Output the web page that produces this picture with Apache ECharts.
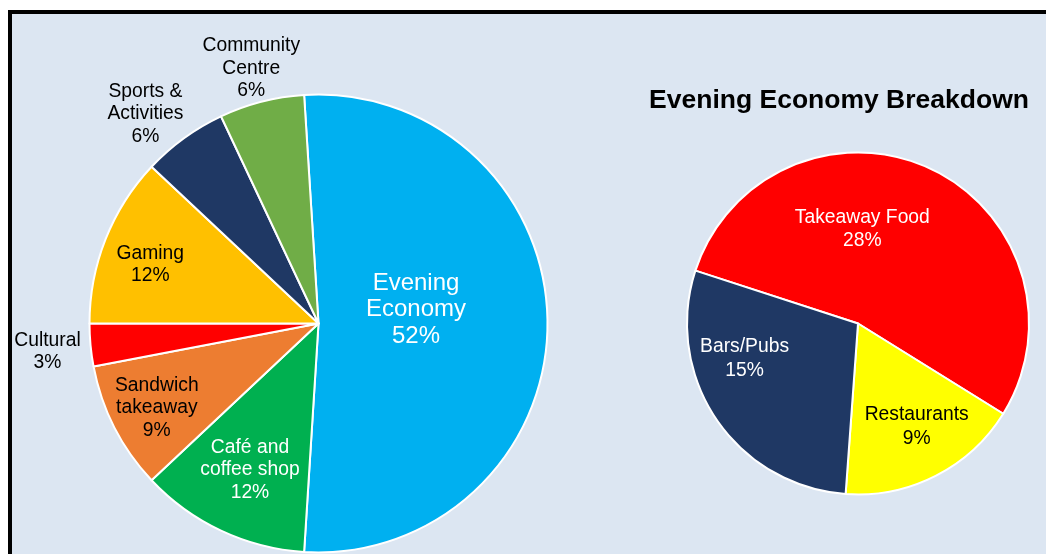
<!DOCTYPE html>
<html>
<head>
<meta charset="utf-8">
<script src="https://cdn.jsdelivr.net/npm/echarts@6/dist/echarts.min.js"></script>
<style>
  html, body { margin: 0; padding: 0; background: #ffffff; width: 1046px; height: 554px; overflow: hidden; }
  #frame { position: absolute; left: 8px; top: 10px; width: 1100px; height: 600px; border: 4px solid #000; background: #DCE6F2; }
  #chart { position: absolute; left: 0; top: 0; width: 1046px; height: 554px; }
</style>
</head>
<body>
<div id="frame"></div>
<div id="chart"></div>
<script>
// Main pie
const mainCategories = ['Evening\nEconomy', 'Café and\ncoffee shop', 'Sandwich\ntakeaway', 'Cultural', 'Gaming', 'Sports &\nActivities', 'Community\nCentre'];
const mainValues = [52, 12, 9, 3, 12, 6, 6];
const mainColors = ['#00B0F0', '#00B050', '#ED7D31', '#FF0000', '#FFC000', '#1F3864', '#70AD47'];
const mainLabelColors = ['#ffffff', '#ffffff', '#000000', '#000000', '#000000', '#000000', '#000000'];
const mainLabelOffsets = [[-20, -14], [-18.5, 40], [-57, 31], [-154, 17], [-59, -15.5], [-104, -114.5], [-38, -141.5]];

// Breakdown pie
const subCategories = ['Takeaway Food', 'Restaurants', 'Bars/Pubs'];
const subValues = [28, 9, 15];
const subColors = ['#FF0000', '#FFFF00', '#1F3864'];
const subLabelColors = ['#ffffff', '#000000', '#ffffff'];
const subLabelOffsets = [[-33, -14], [18.5, 24.5], [-40, -14]];

const titleText = 'Evening Economy Breakdown';

const font = 'Liberation Sans, Arial, sans-serif';

const mainData = mainCategories.map((name, i) => ({
  name: name,
  value: mainValues[i],
  itemStyle: { color: mainColors[i] },
  label: {
    color: mainLabelColors[i],
    offset: mainLabelOffsets[i],
    fontSize: i === 0 ? 24 : 19.3,
    lineHeight: i === 0 ? 26.5 : 22.5
  }
}));

const subData = subCategories.map((name, i) => ({
  name: name,
  value: subValues[i],
  itemStyle: { color: subColors[i] },
  label: { color: subLabelColors[i], offset: subLabelOffsets[i] }
}));

const chart = echarts.init(document.getElementById('chart'), null, { renderer: 'canvas' });
chart.setOption({
  backgroundColor: 'transparent',
  animation: false,
  title: {
    text: titleText,
    left: 834,
    top: 82,
    textAlign: 'center',
    textStyle: { fontFamily: font, fontWeight: 'bold', fontSize: 26.5, color: '#000' }
  },
  series: [
    {
      type: 'pie',
      center: [318.5, 323.5],
      radius: [0, 229],
      startAngle: 93.6,
      clockwise: true,
      avoidLabelOverlap: false,
      itemStyle: { borderColor: '#ffffff', borderWidth: 2 },
      label: {
        show: true,
        position: 'inside',
        formatter: '{b}\n{c}%',
        fontFamily: font,
        fontSize: 19.3,
        lineHeight: 22.5,
        align: 'center'
      },
      labelLine: { show: false },
      emphasis: { disabled: true },
      data: mainData
    },
    {
      type: 'pie',
      center: [858, 323.5],
      radius: [0, 171],
      startAngle: 162,
      clockwise: true,
      avoidLabelOverlap: false,
      itemStyle: { borderColor: '#ffffff', borderWidth: 2 },
      label: {
        show: true,
        position: 'inside',
        formatter: '{b}\n{c}%',
        fontFamily: font,
        fontSize: 19.3,
        lineHeight: 23.5,
        align: 'center'
      },
      labelLine: { show: false },
      emphasis: { disabled: true },
      data: subData
    }
  ]
});
</script>
</body>
</html>
